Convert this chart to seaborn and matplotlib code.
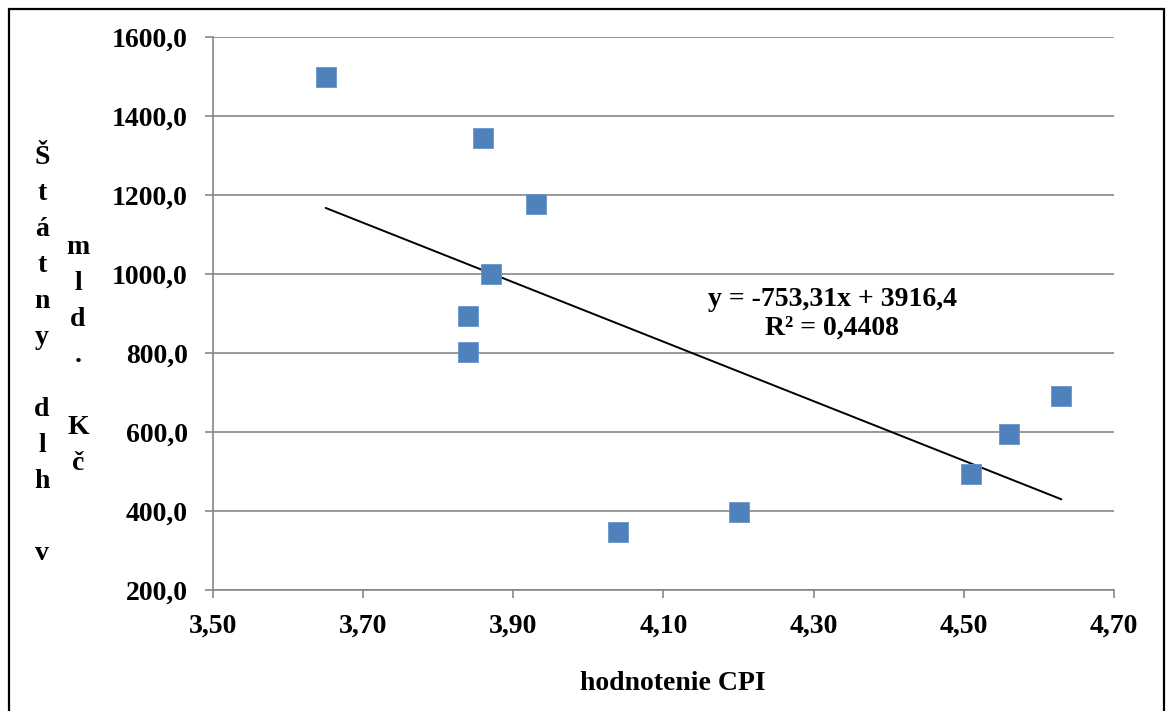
import numpy as np
import pandas as pd
import seaborn as sns
import matplotlib.pyplot as plt
from matplotlib.ticker import FuncFormatter, FixedLocator, MultipleLocator
from matplotlib.patches import Rectangle

# data
cpi = [3.65, 3.86, 3.93, 3.87, 3.84, 3.84, 4.04, 4.20, 4.51, 4.56, 4.63]
dlh = [1500, 1344, 1177, 1000, 894, 803, 347, 397, 494, 595, 691]
xticks = [3.50, 3.70, 3.90, 4.10, 4.30, 4.50, 4.70]
rovnica = "y = -753,31x + 3916,4"
r2 = "R² = 0,4408"
ylabel1 = "Štátny dlh v"
ylabel2 = "mld. Kč"
xlabel = "hodnotenie CPI"

df = pd.DataFrame({"cpi": cpi, "dlh": dlh})

sns.set_style("white")
plt.rcParams['font.family'] = ['Liberation Serif', 'DejaVu Serif']
plt.rcParams['font.weight'] = 'bold'
plt.rcParams['text.color'] = 'black'
plt.rcParams['xtick.labelcolor'] = 'black'
plt.rcParams['ytick.labelcolor'] = 'black'

W, H = 1166, 711
fs = 20
fig = plt.figure(figsize=(W / 100, H / 100), dpi=100)
ax = fig.add_axes([213 / W, 1 - 590 / H, (1114 - 213) / W, (590 - 37) / H])

sns.regplot(x="cpi", y="dlh", data=df, ci=None, scatter=False, truncate=True,
            line_kws={"color": "black", "lw": 1.4}, ax=ax)
sns.scatterplot(x="cpi", y="dlh", data=df, marker="s", s=200, color="#4F81BD",
                edgecolor="#6a95c8", linewidth=0.6, ax=ax, zorder=3)

ax.set_xlim(3.5, 4.7)
ax.set_ylim(200, 1600)
ax.xaxis.set_major_locator(FixedLocator(xticks))
ax.yaxis.set_major_locator(MultipleLocator(200))
ax.xaxis.set_major_formatter(FuncFormatter(lambda v, p: f"{v:.2f}".replace(".", ",")))
ax.yaxis.set_major_formatter(FuncFormatter(lambda v, p: f"{v:.1f}".replace(".", ",")))

ax.grid(axis="y", color="#878787", lw=1.2)
ax.set_axisbelow(True)
for s in ["top", "right"]:
    ax.spines[s].set_visible(False)
for s in ["left", "bottom"]:
    ax.spines[s].set_color("#878787")
    ax.spines[s].set_linewidth(1.2)
ax.tick_params(axis="both", which="major", direction="out", length=6, width=1.2,
               color="#878787", labelsize=fs, labelcolor="black", bottom=True, left=True)
ax.tick_params(axis="y", pad=12)
ax.tick_params(axis="x", pad=11)
for lab in ax.get_xticklabels() + ax.get_yticklabels():
    lab.set_fontweight("bold")

ax.set_xlabel("")
ax.set_ylabel("")
fig.text(673 / W, 1 - 683 / H, xlabel, ha="center", va="center", fontsize=fs, fontweight="bold")

# vertical letter-by-letter y label
for i, ch in enumerate(ylabel1):
    if ch != " ":
        fig.text(42 / W, 1 - (157 + 36 * i) / H, ch, ha="center", va="center",
                 fontsize=fs, fontweight="bold")
for i, ch in enumerate(ylabel2):
    if ch != " ":
        fig.text(78 / W, 1 - (248 + 36 * i) / H, ch, ha="center", va="center",
                 fontsize=fs, fontweight="bold")

fig.text(832 / W, 1 - 299 / H, rovnica, ha="center", va="center", fontsize=fs, fontweight="bold")
fig.text(832 / W, 1 - 328 / H, r2, ha="center", va="center", fontsize=fs, fontweight="bold")

fig.patches.append(Rectangle((9 / W, -0.05), (1164 - 9) / W, 1.05 - 9 / H,
                             transform=fig.transFigure, fill=False, edgecolor="black",
                             lw=1.6, zorder=10))

fig.savefig("out.png", dpi=100)
